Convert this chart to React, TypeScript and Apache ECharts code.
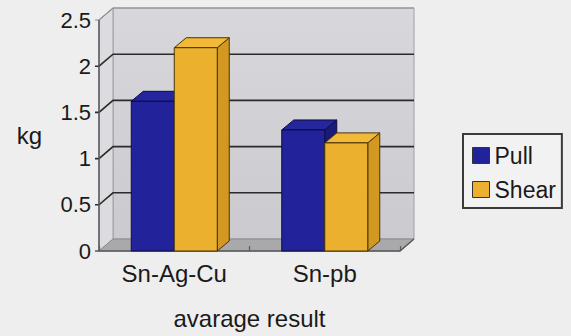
import React, { useEffect, useRef } from "react";
import * as echarts from "echarts";

const categories = ["Sn-Ag-Cu", "Sn-pb"];
const pullValues = [1.62, 1.31];
const shearValues = [2.2, 1.17];
const yTicks = [0, 0.5, 1, 1.5, 2, 2.5];
const seriesNames = ["Pull", "Shear"];

const FONT = "Liberation Sans, Arial, sans-serif";
const DX = 14;
const DY = 12;
const BDX = 12;
const BDY = 10;
const BAR_W = 43;

const palette = [
  { front: "#22229a", top: "#25259e", side: "#1a1a78", stroke: "#0c0c40" },
  { front: "#ebb12e", top: "#f1b937", side: "#d29822", stroke: "#4a3406" },
];

export default function App() {
  const ref = useRef<HTMLDivElement>(null);
  useEffect(() => {
    document.body.style.margin = "0";
    const chart = echarts.init(ref.current!, null, { renderer: "svg" });

    const wallsRender = (params: any, api: any) => {
      const cs = params.coordSys;
      const x0 = cs.x;
      const x1 = cs.x + cs.width;
      const yT = cs.y;
      const yB = cs.y + cs.height;
      const children: any[] = [];
      children.push({
        type: "rect",
        shape: { x: x0 + DX, y: yT - DY, width: x1 - x0, height: yB - yT },
        style: {
          fill: new echarts.graphic.LinearGradient(0, 0, 0, 1, [
            { offset: 0, color: "#d8d8dc" },
            { offset: 1, color: "#cbcbcf" },
          ]),
          stroke: "#a0a0a4",
          lineWidth: 1,
        },
      });
      children.push({
        type: "polygon",
        shape: { points: [[x0, yT], [x0 + DX, yT - DY], [x0 + DX, yB - DY], [x0, yB]] },
        style: { fill: "#dcdce0", stroke: "#a0a0a4", lineWidth: 1 },
      });
      children.push({
        type: "polygon",
        shape: { points: [[x0, yB], [x0 + DX, yB - DY], [x1 + DX, yB - DY], [x1, yB]] },
        style: { fill: "#a9a9ab", stroke: "#8c8c8e", lineWidth: 1 },
      });
      for (const v of yTicks) {
        if (v === 0) continue;
        const y = api.coord([0, v])[1];
        const top = v === yTicks[yTicks.length - 1];
        children.push({
          type: "polyline",
          shape: { points: [[x0 - 4, y], [x0, y], [x0 + DX, y - DY], [x1 + DX, y - DY]] },
          style: { stroke: top ? "#8e8e92" : "#2b2b2b", lineWidth: top ? 1.2 : 1.6, fill: null },
        });
      }
      children.push({
        type: "polyline",
        shape: { points: [[x0, yT], [x0, yB], [x1, yB], [x1 + DX, yB - DY]] },
        style: { stroke: "#5a5a5c", lineWidth: 1.5, fill: null },
      });
      children.push({
        type: "line",
        shape: { x1: x0 - 4, y1: yB, x2: x0, y2: yB },
        style: { stroke: "#5a5a5c", lineWidth: 1.5 },
      });
      return { type: "group", children };
    };

    const barRender = (side: number) => (params: any, api: any) => {
      const c = palette[side];
      const cat = api.value(0);
      const v = api.value(1);
      const base = api.coord([cat, 0]);
      const top = api.coord([cat, v]);
      const xa = side === 0 ? base[0] - BAR_W : base[0];
      const xb = xa + BAR_W;
      const yT = top[1];
      const yB = base[1];
      const st = { stroke: c.stroke, lineWidth: 1, lineJoin: "round" };
      return {
        type: "group",
        children: [
          {
            type: "polygon",
            shape: { points: [[xb, yT], [xb + BDX, yT - BDY], [xb + BDX, yB - BDY], [xb, yB]] },
            style: { fill: c.side, ...st },
          },
          {
            type: "polygon",
            shape: { points: [[xa, yT], [xb, yT], [xb + BDX, yT - BDY], [xa + BDX, yT - BDY]] },
            style: { fill: c.top, ...st },
          },
          {
            type: "rect",
            shape: { x: xa, y: yT, width: BAR_W, height: yB - yT },
            style: { fill: c.front, ...st },
          },
        ],
      };
    };

    const valueSets = [pullValues, shearValues];

    chart.setOption({
      animation: false,
      backgroundColor: "#eeeeee",
      textStyle: { fontFamily: FONT },
      grid: { left: 99, top: 20, width: 301, height: 231 },
      legend: {
        data: seriesNames.map((n) => ({ name: n })),
        orient: "vertical",
        left: 463,
        top: 134,
        icon: "rect",
        itemWidth: 17,
        itemHeight: 16,
        itemGap: 11,
        itemStyle: { borderColor: "#333", borderWidth: 1 },
        textStyle: { fontSize: 23, color: "#1a1a1a", fontFamily: FONT },
        borderColor: "#3a3a3a",
        borderWidth: 2,
        padding: [10, 6, 7, 9],
        backgroundColor: "#f2f2f2",
      },
      xAxis: {
        type: "category",
        data: categories,
        z: 3,
        axisLine: { show: false },
        axisTick: { show: true, inside: true, length: 5, lineStyle: { color: "#5a5a5c", width: 1.2 } },
        axisLabel: { fontSize: 24, color: "#1a1a1a", margin: 10, fontFamily: FONT },
        name: "avarage result",
        nameLocation: "middle",
        nameGap: 55,
        nameTextStyle: { fontSize: 24, color: "#1a1a1a", fontFamily: FONT },
      },
      yAxis: {
        type: "value",
        min: 0,
        max: 2.5,
        interval: 0.5,
        axisLine: { show: false },
        axisTick: { show: false },
        splitLine: { show: false },
        axisLabel: { fontSize: 22, color: "#1a1a1a", margin: 8, fontFamily: FONT },
        name: "kg",
        nameLocation: "middle",
        nameRotate: 0,
        nameGap: 57,
        nameTextStyle: { fontSize: 24, color: "#1a1a1a", fontFamily: FONT },
      },
      series: [
        {
          type: "custom",
          name: "walls",
          renderItem: wallsRender,
          data: [[0, 0]],
          silent: true,
        },
        ...seriesNames.map((name, i) => ({
          type: "custom",
          name,
          renderItem: barRender(i),
          itemStyle: { color: palette[i].front, borderColor: "#333" },
          data: categories.map((_, k) => [k, valueSets[i][k]]),
        })),
      ],
    });
    return () => chart.dispose();
  }, []);
  return <div ref={ref} style={{ width: 571, height: 336 }} />;
}
